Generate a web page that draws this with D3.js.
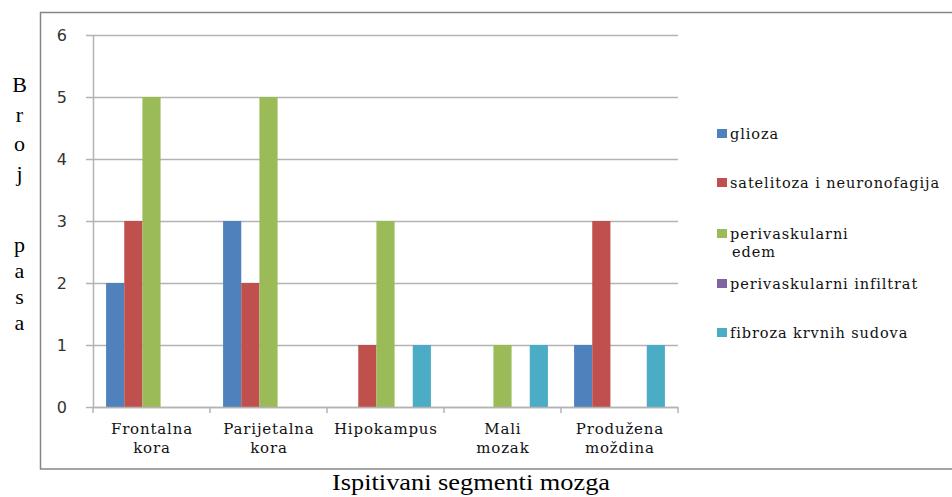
<!DOCTYPE html>
<html><head><meta charset="utf-8">
<script src="https://cdn.jsdelivr.net/npm/d3@7"></script>
<style>body{margin:0;background:#fff}svg{display:block}.serif{font-family:'Liberation Serif','Times New Roman',serif}.slab{font-family:'DejaVu Serif',serif}</style>
</head><body>
<svg id="c" width="952" height="497"></svg>
<script>
const categories = [["Frontalna","kora"],["Parijetalna","kora"],["Hipokampus"],["Mali","mozak"],["Produžena","moždina"]];
const seriesNames = [["glioza"],["satelitoza i neuronofagija"],["perivaskularni","edem"],["perivaskularni infiltrat"],["fibroza krvnih sudova"]];
const seriesColors = ["#4F81BD","#C0504D","#9BBB59","#8064A2","#4BACC6"];
const glioza = [2,3,0,0,1];
const satelitoza = [3,2,1,0,3];
const edem = [5,5,3,1,0];
const infiltrat = [0,0,0,0,0];
const fibroza = [0,0,1,1,1];
const seriesValues = [glioza, satelitoza, edem, infiltrat, fibroza];
const yTicks = [0,1,2,3,4,5,6];
const yTitleWords = ["Broj","pasa"];
const xTitle = "Ispitivani segmenti mozga";

const svg = d3.select("#c");
// outer frame
svg.append("rect").attr("x",40.5).attr("y",12.5).attr("width",1000).attr("height",456.5)
  .attr("fill","none").attr("stroke","#868686").attr("stroke-width",1.5);

const x0 = d3.scaleBand().domain(d3.range(categories.length)).range([93,678]);
const x1 = d3.scaleBand().domain(d3.range(seriesValues.length)).range([0,x0.bandwidth()]).paddingOuter(0.72);
const y = d3.scaleLinear().domain([0,6]).range([407,35]);

// gridlines
svg.append("g").selectAll("line").data(yTicks).join("line")
  .attr("x1",86).attr("x2",678).attr("y1",d=>Math.round(y(d))+0.5).attr("y2",d=>Math.round(y(d))+0.5)
  .attr("stroke","#b3b3b3").attr("stroke-width",1.5);
// y axis
const ya = d3.axisLeft(y).tickValues(yTicks).tickFormat(d3.format("d")).tickSize(0).tickPadding(0);
const yg = svg.append("g").attr("transform","translate(93,0)").call(ya);
yg.select(".domain").attr("stroke","#b3b3b3").attr("stroke-width",1.5);
yg.selectAll("text").attr("x",-26).attr("font-family","DejaVu Sans").attr("font-size",16).attr("fill","#333").attr("dy","0.35em");

// bars
seriesValues.forEach((vals,si)=>{
  svg.append("g").selectAll("rect").data(vals).join("rect")
    .attr("x",(d,i)=>x0(i)+x1(si)).attr("width",x1.bandwidth())
    .attr("y",d=>y(d)).attr("height",d=>y(0)-y(d))
    .attr("fill",seriesColors[si]);
});

// x axis
const xa = svg.append("g");
xa.append("line").attr("x1",93).attr("x2",678).attr("y1",407.5).attr("y2",407.5).attr("stroke","#b3b3b3").attr("stroke-width",1.5);
xa.selectAll("line.t").data(d3.range(categories.length+1)).join("line")
  .attr("x1",d=>93+d*x0.bandwidth()).attr("x2",d=>93+d*x0.bandwidth()).attr("y1",407).attr("y2",413)
  .attr("stroke","#b3b3b3").attr("stroke-width",1.5);

// helper: letter-spacing so a sample string reaches a width
function spacingFor(sample, size, width){
  const t = svg.append("text").attr("class","slab").attr("font-size",size).text(sample);
  const w = t.node().getComputedTextLength(); t.remove();
  return Math.max(0,(width - w)/sample.length);
}
const catLS = spacingFor("Frontalna",15,82);
categories.forEach((c,i)=>{
  const cx = x0(i)+x0.bandwidth()/2;
  const t = svg.append("text").attr("class","slab").attr("y",434)
    .attr("text-anchor","middle").attr("font-size",15)
    .attr("letter-spacing",catLS+"px").attr("fill","#111");
  c.forEach((s,k)=>t.append("tspan").attr("x",cx+catLS/2).attr("dy",k?19:0).text(s));
});

// y title
yTitleWords.forEach((w,wi)=>{
  w.split("").forEach((ch,i)=>{
    svg.append("text").attr("class","serif").attr("x",19.5)
      .attr("y",(wi?252:92)+i*(wi?26:29.5)).attr("text-anchor","middle")
      .attr("font-size",22).attr("fill","#000").text(ch);
  });
});
// x title
svg.append("text").attr("class","serif").attr("x",332).attr("y",490)
  .attr("font-size",24).attr("fill","#000").text(xTitle)
  .attr("textLength",278).attr("lengthAdjust","spacingAndGlyphs");

// legend
const legLS = spacingFor("satelitoza i neuronofagija",14.5,210);
const legY = [133,182,233,283,332];
seriesNames.forEach((n,i)=>{
  svg.append("rect").attr("x",717).attr("y",legY[i]-4).attr("width",10).attr("height",9).attr("fill",seriesColors[i]);
  const t = svg.append("text").attr("class","slab").attr("x",730).attr("y",legY[i]+6)
    .attr("font-size",14.5).attr("letter-spacing",legLS+"px").attr("fill","#111");
  n.forEach((s,k)=>t.append("tspan").attr("x",k?732:730).attr("dy",k?18:0).text(s));
});
</script>
</body></html>
